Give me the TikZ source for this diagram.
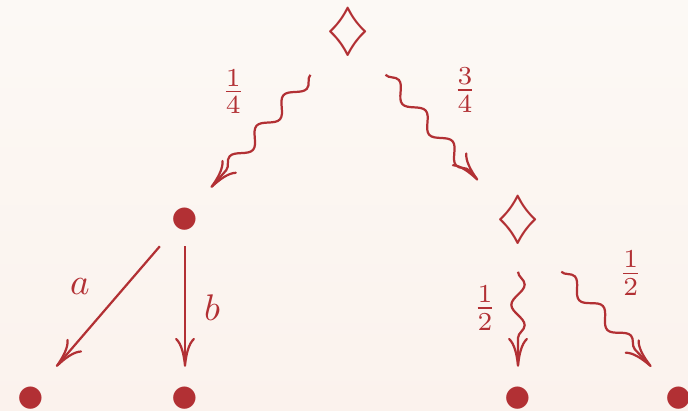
\documentclass[tikz,border=0pt]{standalone}
\usepackage{graphicx}
\usetikzlibrary{arrows.meta,decorations.pathmorphing}
\definecolor{ink}{RGB}{178,48,52}
\definecolor{bgtop}{RGB}{252,249,245}
\definecolor{bgbot}{RGB}{251,242,237}
\begin{document}
\begin{tikzpicture}[x=0.27pt,y=-0.27pt,
  every node/.style={text=ink},
  bnode/.style={rectangle,inner sep=0pt,minimum width=16.2pt,minimum height=15.4pt,
    label={[text=ink,yshift=-0.9pt]center:\scalebox{1.55}{$\bullet$}}},
  dnode/.style={rectangle,inner sep=0pt,minimum width=23.8pt,minimum height=22.7pt},
  dnodeb/.style={rectangle,inner sep=0pt,minimum width=24.3pt,minimum height=24.3pt},
  arr/.style={draw=ink,line width=0.6pt,-{Computer Modern Rightarrow[length=7.8pt,width=5.4pt]}},
  squig/.style={arr,decorate,decoration={snake,amplitude=1.8pt,segment length=11pt,post length=2.5pt}}]
\useasboundingbox (0,0) rectangle (688,410);
\shade[top color=bgtop,bottom color=bgbot] (0,0) rectangle (688,410);
\node[dnode] (d0) at (348,32) {\scalebox{1.5}{$\diamondsuit$}};
\node[bnode] (b1) at (185,217) {};
\node[dnodeb,label={[text=ink,yshift=1.6pt]center:\scalebox{1.5}{$\diamondsuit$}}] (d1) at (518,226) {};
\node[bnode] (l1) at (31,396) {};
\node[bnode] (l2) at (185,396) {};
\node[bnode] (r1) at (518,396) {};
\node[bnode] (r2) at (679,396) {};
\draw[squig] (d0) -- node[midway,xshift=-7.4pt,yshift=10.7pt] {$\frac{1}{4}$} (b1);
\draw[squig] (d0) -- node[midway,xshift=9pt,yshift=10.1pt] {$\frac{3}{4}$} (d1);
\draw[arr] (b1) -- node[midway,xshift=-7.6pt,yshift=5.3pt] {$a$} (l1);
\draw[arr] (b1) -- node[midway,xshift=7.3pt,yshift=-0.4pt] {$b$} (l2);
\draw[squig] (d1) -- node[midway,xshift=-8.9pt,yshift=3pt] {$\frac{1}{2}$} (r1);
\draw[squig] (d1) -- node[midway,xshift=6.6pt,yshift=12.4pt] {$\frac{1}{2}$} (r2);
\end{tikzpicture}
\end{document}
